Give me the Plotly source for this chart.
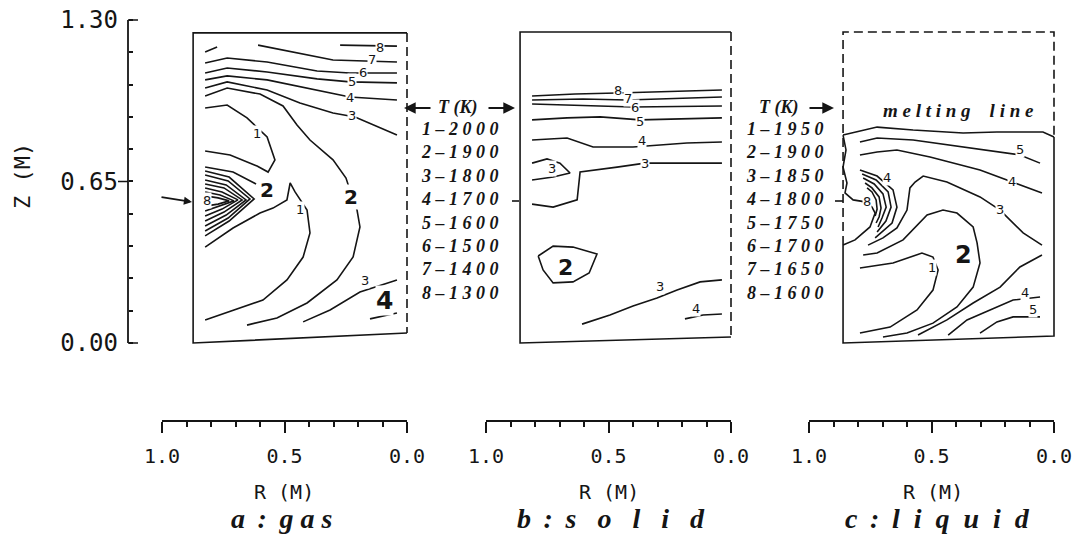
import plotly.graph_objects as go

W, H = 1089, 537


def PX(x):
    return x / W


def PY(y):
    return 1 - y / H


# ---------------- axis data ----------------
R_TICKS = [1.0, 0.5, 0.0]
R_TICKTEXT = ["1.0", "0.5", "0.0"]
Z_TICKS = [0.0, 0.65, 1.30]
Z_TICKTEXT = ["0.00", "0.65", "1.30"]
R_MINOR_STEP = 0.1
Z_MINOR_STEP = 0.13

PANEL_TITLES = [("a", "gas"), ("b", "solid"), ("c", "liquid")]
LEVELS_GAS_SOLID = [2000, 1900, 1800, 1700, 1600, 1500, 1400, 1300]
LEVELS_LIQUID = [1950, 1900, 1850, 1800, 1750, 1700, 1650, 1600]

# ---------------- panel a : gas  (R, Z) ----------------
GAS_FRAME = ([0.0, 0.873, 0.873, 0.0], [1.248, 1.248, 0.0, 0.040])
GAS_FRAME_DASH = ([0.0, 0.0], [1.248, 0.040])
GAS_8_TOP = ([0.273, 0.041], [1.199, 1.195])
GAS_8_DASH = ([0.824, 0.775], [1.171, 1.191])
GAS_7 = ([0.608, 0.437, 0.302, 0.041], [1.199, 1.167, 1.139, 1.131])
GAS_6 = ([0.824, 0.734, 0.571, 0.367, 0.233, 0.041], [1.127, 1.147, 1.131, 1.095, 1.087, 1.087])
GAS_5 = ([0.824, 0.734, 0.571, 0.367, 0.233, 0.041], [1.087, 1.107, 1.091, 1.063, 1.051, 1.047])
GAS_4 = ([0.824, 0.734, 0.571, 0.367, 0.233, 0.041], [1.059, 1.075, 1.059, 1.018, 0.990, 0.978])
GAS_3 = ([0.824, 0.734, 0.571, 0.437, 0.302, 0.212, 0.041], [1.026, 1.051, 1.018, 0.966, 0.926, 0.910, 0.837])
GAS_1_LOOP = ([0.824, 0.734, 0.653, 0.571, 0.539, 0.567, 0.612, 0.722, 0.824],
              [0.946, 0.958, 0.906, 0.829, 0.737, 0.688, 0.712, 0.757, 0.773])
GAS_2_OUTER = ([0.824, 0.734, 0.600, 0.506, 0.449, 0.396, 0.302, 0.249, 0.228, 0.204, 0.192, 0.220, 0.286, 0.408, 0.531, 0.653],
               [0.994, 1.026, 1.002, 0.954, 0.877, 0.817, 0.737, 0.664, 0.600, 0.535, 0.467, 0.346, 0.254, 0.161, 0.101, 0.072])
GAS_2_INNER = ([0.824, 0.710, 0.616], [0.708, 0.688, 0.640])
GAS_1_CUSP = ([0.824, 0.710, 0.600, 0.547, 0.490, 0.477, 0.457, 0.408, 0.396, 0.424, 0.490, 0.588, 0.824],
              [0.386, 0.463, 0.523, 0.543, 0.576, 0.644, 0.608, 0.535, 0.443, 0.346, 0.254, 0.173, 0.093])
GAS_CHEV_3 = ([0.824, 0.726, 0.624, 0.726, 0.824], [0.692, 0.668, 0.580, 0.491, 0.431])
GAS_CHEV_4 = ([0.824, 0.730, 0.641, 0.730, 0.824], [0.676, 0.652, 0.580, 0.503, 0.451])
GAS_CHEV_5 = ([0.824, 0.738, 0.657, 0.738, 0.824], [0.656, 0.636, 0.576, 0.515, 0.471])
GAS_CHEV_6 = ([0.824, 0.747, 0.673, 0.747, 0.824], [0.640, 0.624, 0.576, 0.527, 0.491])
GAS_CHEV_7 = ([0.824, 0.755, 0.690, 0.755, 0.824], [0.624, 0.608, 0.576, 0.539, 0.511])
GAS_CHEV_8A = ([0.824, 0.763, 0.706, 0.763, 0.824], [0.608, 0.596, 0.572, 0.551, 0.531])
GAS_CHEV_8B = ([0.824, 0.771, 0.726, 0.771, 0.824], [0.592, 0.584, 0.572, 0.559, 0.551])
GAS_3_BOTTOM = ([0.424, 0.314, 0.192, 0.131, 0.041], [0.085, 0.133, 0.205, 0.225, 0.254])
GAS_4_BOTTOM = ([0.151, 0.098, 0.041], [0.097, 0.109, 0.121])

GAS_LABEL_TEXT = ["8", "7", "6", "5", "4", "3", "1", "8", "1", "3"]
GAS_LABEL_R = [0.110, 0.143, 0.180, 0.224, 0.233, 0.224, 0.612, 0.816, 0.437, 0.171]
GAS_LABEL_Z = [1.191, 1.143, 1.087, 1.051, 0.990, 0.914, 0.845, 0.572, 0.539, 0.250]
GAS_BIG_TEXT = ["2", "2", "4"]
GAS_BIG_R = [0.571, 0.228, 0.090]
GAS_BIG_Z = [0.616, 0.588, 0.172]

# ---------------- panel b : solid ----------------
SOLID_FRAME = ([0.0, 0.861, 0.861, 0.0], [1.252, 1.252, 0.0, 0.024])
SOLID_FRAME_DASH = ([0.0, 0.0], [1.252, 0.024])
SOLID_8 = ([0.812, 0.636, 0.465, 0.037], [0.994, 1.002, 1.006, 1.018])
SOLID_7 = ([0.812, 0.604, 0.424, 0.037], [0.978, 0.982, 0.978, 0.990])
SOLID_6 = ([0.812, 0.534, 0.400, 0.037], [0.962, 0.954, 0.950, 0.954])
SOLID_5 = ([0.812, 0.669, 0.534, 0.371, 0.037], [0.898, 0.906, 0.910, 0.898, 0.906])
SOLID_4 = ([0.812, 0.669, 0.563, 0.400, 0.180, 0.037], [0.817, 0.825, 0.789, 0.789, 0.805, 0.809])
SOLID_3 = ([0.812, 0.726, 0.628, 0.616, 0.465, 0.351, 0.037], [0.559, 0.547, 0.576, 0.688, 0.708, 0.724, 0.724])
SOLID_3_LOOP = ([0.812, 0.751, 0.698, 0.657, 0.726, 0.812], [0.724, 0.741, 0.724, 0.684, 0.668, 0.656])
SOLID_2_LOOP = ([0.787, 0.726, 0.645, 0.547, 0.579, 0.645, 0.726, 0.767, 0.787],
                [0.350, 0.390, 0.386, 0.358, 0.282, 0.246, 0.242, 0.294, 0.350])
SOLID_3_BOTTOM = ([0.608, 0.494, 0.400, 0.302, 0.220, 0.126, 0.037], [0.076, 0.113, 0.149, 0.181, 0.213, 0.246, 0.254])
SOLID_4_BOTTOM = ([0.188, 0.114, 0.037], [0.097, 0.113, 0.117])

SOLID_LABEL_TEXT = ["8", "7", "6", "5", "4", "3", "3", "3", "4"]
SOLID_LABEL_R = [0.461, 0.420, 0.392, 0.371, 0.363, 0.351, 0.730, 0.290, 0.143]
SOLID_LABEL_Z = [1.018, 0.986, 0.946, 0.890, 0.815, 0.724, 0.704, 0.228, 0.137]
SOLID_BIG_TEXT = ["2"]
SOLID_BIG_R = [0.677]
SOLID_BIG_Z = [0.302]

# ---------------- panel c : liquid ----------------
LIQ_FRAME = ([0.0, 0.0, 0.861, 0.861], [0.829, 0.028, 0.0, 0.394])
LIQ_FRAME_DASH = ([0.861, 0.861, 0.0, 0.0], [0.394, 1.252, 1.252, 0.829])
LIQ_MELT = ([0.861, 0.804, 0.722, 0.575, 0.371, 0.233, 0.045, 0.0],
            [0.837, 0.849, 0.869, 0.857, 0.845, 0.849, 0.849, 0.829])
LIQ_MELT_LEFT = ([0.861, 0.849, 0.861, 0.845, 0.853, 0.820, 0.771, 0.743, 0.730, 0.751, 0.812, 0.861],
                 [0.837, 0.777, 0.708, 0.644, 0.604, 0.576, 0.568, 0.547, 0.523, 0.467, 0.415, 0.394])
LIQ_5 = ([0.792, 0.722, 0.575, 0.371, 0.139, 0.057], [0.809, 0.825, 0.817, 0.789, 0.757, 0.724])
LIQ_4 = ([0.792, 0.722, 0.641, 0.506, 0.302, 0.167, 0.049], [0.757, 0.769, 0.777, 0.749, 0.696, 0.648, 0.604])
LIQ_3 = ([0.759, 0.698, 0.641, 0.600, 0.588, 0.567, 0.534, 0.437, 0.302, 0.220, 0.126, 0.049],
         [0.394, 0.423, 0.463, 0.535, 0.624, 0.648, 0.672, 0.648, 0.588, 0.535, 0.443, 0.394])
LIQ_2 = ([0.779, 0.722, 0.616, 0.518, 0.453, 0.396, 0.330, 0.314, 0.302, 0.330, 0.396, 0.494, 0.600, 0.698],
         [0.354, 0.362, 0.415, 0.515, 0.535, 0.523, 0.467, 0.403, 0.322, 0.225, 0.145, 0.080, 0.040, 0.024])
LIQ_1 = ([0.792, 0.657, 0.539, 0.494, 0.473, 0.494, 0.559, 0.669, 0.792],
         [0.302, 0.322, 0.362, 0.346, 0.294, 0.213, 0.133, 0.064, 0.040])
LIQ_3_BOTTOM = ([0.049, 0.139, 0.220, 0.330, 0.437, 0.555], [0.354, 0.306, 0.225, 0.161, 0.093, 0.032])
LIQ_4_BOTTOM = ([0.057, 0.167, 0.261, 0.355, 0.432], [0.185, 0.173, 0.133, 0.093, 0.032])
LIQ_5_BOTTOM = ([0.057, 0.167, 0.233, 0.302], [0.105, 0.105, 0.085, 0.040])
LIQ_ARC_4 = ([0.792, 0.722, 0.657, 0.641, 0.661, 0.730], [0.696, 0.672, 0.616, 0.547, 0.483, 0.423])
LIQ_ARC_5 = ([0.783, 0.726, 0.677, 0.665, 0.686, 0.722], [0.680, 0.656, 0.608, 0.547, 0.491, 0.447])
LIQ_ARC_6 = ([0.779, 0.734, 0.698, 0.685, 0.702, 0.718], [0.664, 0.640, 0.600, 0.547, 0.503, 0.467])
LIQ_ARC_7 = ([0.771, 0.743, 0.714, 0.706, 0.714, 0.726], [0.644, 0.624, 0.588, 0.543, 0.507, 0.483])
LIQ_ARC_8 = ([0.763, 0.743, 0.726, 0.722, 0.730], [0.624, 0.608, 0.576, 0.539, 0.511])

LIQ_LABEL_TEXT = ["5", "4", "3", "4", "8", "1", "4", "5"]
LIQ_LABEL_R = [0.139, 0.171, 0.220, 0.681, 0.763, 0.498, 0.118, 0.086]
LIQ_LABEL_Z = [0.777, 0.652, 0.539, 0.668, 0.568, 0.302, 0.205, 0.133]
LIQ_BIG_TEXT = ["2"]
LIQ_BIG_R = [0.371]
LIQ_BIG_Z = [0.354]

# ---------------- figure ----------------
INK = "#151515"
LW = 1.6
DASH = "9px,5px"
MONO = "DejaVu Sans Mono"
SANS = "DejaVu Sans"
SERIF = "Liberation Serif"
NB = "\u00a0"
THIN = "\u2009"

fig = go.Figure()


def add_line(axis, data, dash=None, width=LW):
    fig.add_trace(go.Scatter(
        x=data[0], y=data[1], xaxis=axis, yaxis="y", mode="lines",
        line=dict(color=INK, width=width, dash=dash),
        hoverinfo="skip", showlegend=False))


def add_labels(axis, texts, rs, zs, size, bold=False):
    for t, r, z in zip(texts, rs, zs):
        fig.add_annotation(
            x=r, y=z, xref=axis, yref="y", text=t, showarrow=False,
            xanchor="center", yanchor="middle",
            font=dict(family=SANS, size=size, color=INK, weight="bold" if bold else "normal"),
            bgcolor="white", borderpad=0)


def paper_text(x, y, text, font, xanchor="center", **kw):
    fig.add_annotation(x=PX(x), y=PY(y), xref="paper", yref="paper", text=text,
                       showarrow=False, xanchor=xanchor, yanchor="middle", font=font, **kw)


for d in [GAS_FRAME, GAS_8_TOP, GAS_8_DASH, GAS_7, GAS_6, GAS_5, GAS_4, GAS_3, GAS_1_LOOP,
          GAS_2_OUTER, GAS_2_INNER, GAS_1_CUSP, GAS_CHEV_3, GAS_CHEV_4, GAS_CHEV_5, GAS_CHEV_6,
          GAS_CHEV_7, GAS_CHEV_8A, GAS_CHEV_8B, GAS_3_BOTTOM, GAS_4_BOTTOM]:
    add_line("x", d)
add_line("x", GAS_FRAME_DASH, dash=DASH)

for d in [SOLID_FRAME, SOLID_8, SOLID_7, SOLID_6, SOLID_5, SOLID_4, SOLID_3, SOLID_3_LOOP,
          SOLID_2_LOOP, SOLID_3_BOTTOM, SOLID_4_BOTTOM]:
    add_line("x2", d)
add_line("x2", SOLID_FRAME_DASH, dash=DASH)

for d in [LIQ_FRAME, LIQ_MELT, LIQ_MELT_LEFT, LIQ_5, LIQ_4, LIQ_3, LIQ_2, LIQ_1, LIQ_3_BOTTOM,
          LIQ_4_BOTTOM, LIQ_5_BOTTOM, LIQ_ARC_4, LIQ_ARC_5, LIQ_ARC_6, LIQ_ARC_7, LIQ_ARC_8]:
    add_line("x3", d)
add_line("x3", LIQ_FRAME_DASH, dash=DASH)

add_labels("x", GAS_LABEL_TEXT, GAS_LABEL_R, GAS_LABEL_Z, 13)
add_labels("x", GAS_BIG_TEXT[:2], GAS_BIG_R[:2], GAS_BIG_Z[:2], 20, bold=True)
add_labels("x", GAS_BIG_TEXT[2:], GAS_BIG_R[2:], GAS_BIG_Z[2:], 25, bold=True)
add_labels("x2", SOLID_LABEL_TEXT, SOLID_LABEL_R, SOLID_LABEL_Z, 13)
add_labels("x2", SOLID_BIG_TEXT, SOLID_BIG_R, SOLID_BIG_Z, 22, bold=True)
add_labels("x3", LIQ_LABEL_TEXT, LIQ_LABEL_R, LIQ_LABEL_Z, 13)
add_labels("x3", LIQ_BIG_TEXT, LIQ_BIG_R, LIQ_BIG_Z, 24, bold=True)

# ---------------- axes ----------------
PAD = 0.03
X_PIX = {"x": (162, 407), "x2": (486, 731), "x3": (809, 1054)}
AXIS_Y_PX = 421
layout_axes = {}
for key, (a, b) in X_PIX.items():
    span = b - a
    name = "xaxis" if key == "x" else "xaxis" + key[1:]
    layout_axes[name] = dict(
        domain=[(a - PAD * span) / W, (b + PAD * span) / W],
        range=[1 + PAD, -PAD], anchor="free", position=PY(AXIS_Y_PX),
        showline=False, showgrid=False, zeroline=False,
        tickmode="array", tickvals=R_TICKS, ticktext=R_TICKTEXT,
        ticks="outside", ticklen=11, tickwidth=1.5, tickcolor=INK,
        minor=dict(tickmode="linear", tick0=0, dtick=R_MINOR_STEP, ticks="outside",
                   ticklen=5, tickwidth=1.5, tickcolor=INK, showgrid=False),
        tickfont=dict(family=MONO, size=20, color=INK),
        ticklabelstandoff=6, automargin=False, fixedrange=True)
    fig.add_shape(type="line", xref=key, yref="paper", x0=R_TICKS[0], x1=R_TICKS[-1],
                  y0=PY(AXIS_Y_PX), y1=PY(AXIS_Y_PX), line=dict(color=INK, width=1.8))

Z_TOP_PX, Z_BOT_PX = 20, 343
zpx = (Z_BOT_PX - Z_TOP_PX) / 1.3
Y_AXIS_X_PX = 128
layout_axes["yaxis"] = dict(
    domain=[PY(Z_BOT_PX + PAD * zpx), PY(Z_TOP_PX - PAD * zpx)],
    range=[-PAD, 1.3 + PAD], anchor="free", position=PX(Y_AXIS_X_PX), side="left",
    showline=False, showgrid=False, zeroline=False,
    tickmode="array", tickvals=Z_TICKS, ticktext=Z_TICKTEXT, ticks="",
    minor=dict(tickmode="linear", tick0=0, dtick=Z_MINOR_STEP, ticks="inside",
               ticklen=4, tickwidth=1.5, tickcolor=INK, showgrid=False),
    tickfont=dict(family=MONO, size=24, color=INK),
    ticklabelstandoff=10, automargin=False, fixedrange=True)
fig.add_shape(type="line", xref="paper", yref="y", x0=PX(Y_AXIS_X_PX), x1=PX(Y_AXIS_X_PX),
              y0=Z_TICKS[0], y1=Z_TICKS[-1], line=dict(color=INK, width=1.8))
for z, x_end in [(Z_TICKS[0], 138), (Z_TICKS[-1], 138), (Z_TICKS[1], 118)]:
    fig.add_shape(type="line", xref="paper", yref="y", x0=PX(Y_AXIS_X_PX), x1=PX(x_end),
                  y0=z, y1=z, line=dict(color=INK, width=1.6))

fig.update_layout(**layout_axes)

# ---------------- texts ----------------
paper_text(22, 176, "Z (M)", dict(family=MONO, size=22, color=INK), textangle=-90)

for cx in [284, 609, 933]:
    paper_text(cx, 492, "R (M)", dict(family=MONO, size=20, color=INK))

TITLE_FONT = dict(family=SERIF, size=28, color=INK, weight="bold", style="italic")
TITLE_GAPS = [NB, NB * 3, NB * 2]
COLON = NB + THIN + ":" + NB + THIN
for cx, (letter, word), gap in zip([282, 611, 937], PANEL_TITLES, TITLE_GAPS):
    spaced_word = gap.join(word)
    paper_text(cx, 518, f"{letter}{COLON}{spaced_word}", TITLE_FONT)

LEG_FONT = dict(family=SERIF, size=18, color=INK, weight="bold", style="italic")


def legend_block(levels):
    rows = []
    for i, v in enumerate(levels, start=1):
        rows.append(f"{i} – " + " ".join(str(v)))
    return "<br>".join(rows)


paper_text(419, 211, legend_block(LEVELS_GAS_SOLID), LEG_FONT, xanchor="left", align="left")
paper_text(744, 211, legend_block(LEVELS_LIQUID), LEG_FONT, xanchor="left", align="left")

paper_text(458, 107, "T (K)", LEG_FONT)
paper_text(779, 107, "T (K)", LEG_FONT)
MELT_TEXT = NB.join("melting") + NB * 4 + NB.join("line")
paper_text(958, 110, MELT_TEXT,
           dict(family=SERIF, size=19, color=INK, weight="bold", style="italic"))

# arrows
for hx, hy, ax, ay, size in [(404, 108, 28, 0, 1.3), (515, 108, -28, 0, 1.3),
                             (834, 108, -26, 0, 1.3), (192, 202, -32, -5, 0.9)]:
    fig.add_annotation(x=PX(hx), y=PY(hy), xref="paper", yref="paper", ax=ax, ay=ay,
                       axref="pixel", ayref="pixel", text="", showarrow=True,
                       arrowhead=2, arrowsize=size, arrowwidth=1.8, arrowcolor=INK)

# small pointer marks at the left edges of panels b and c
for x0, x1 in [(512, 519), (835, 843)]:
    fig.add_shape(type="line", xref="paper", yref="paper", x0=PX(x0), x1=PX(x1),
                  y0=PY(201), y1=PY(201), line=dict(color=INK, width=1.6))

fig.update_layout(
    width=W, height=H, autosize=False,
    margin=dict(l=0, r=0, t=0, b=0),
    paper_bgcolor="white", plot_bgcolor="white",
    showlegend=False,
)

fig.write_html("out.html", config={"displayModeBar": False},
               post_script="document.body.style.margin='0px';")
